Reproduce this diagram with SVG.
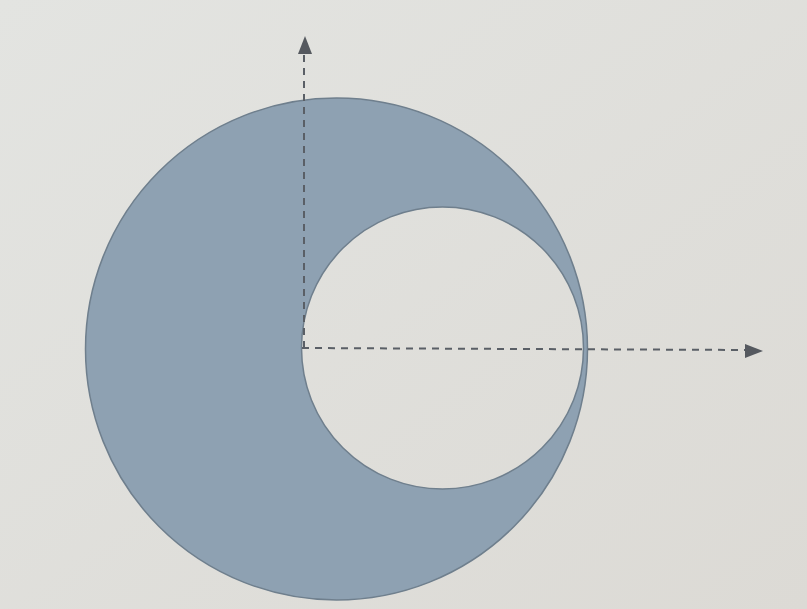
<svg xmlns="http://www.w3.org/2000/svg" width="807" height="609" viewBox="0 0 807 609">
<defs>
<style>
.axis{stroke:#5a5f66;stroke-width:2;stroke-dasharray:7 6;fill:none}
.head{fill:#55595f}
</style>
<linearGradient id="bg" x1="0" y1="0" x2="1" y2="1">
<stop offset="0" stop-color="#e3e4e1"/>
<stop offset="1" stop-color="#dcdad5"/>
</linearGradient>
</defs>
<rect width="807" height="609" fill="url(#bg)"/>
<g id="shape">
<path d="M336.5,98 A251,251 0 1,0 336.5,600 A251,251 0 1,0 336.5,98 Z M442.5,207 A141,141 0 1,1 442.5,489 A141,141 0 1,1 442.5,207 Z" fill="#8ea1b2" fill-rule="evenodd" stroke="#6f7f8d" stroke-width="1.5"/>
</g>
<g id="connectors">
<line class="axis" x1="304" y1="348" x2="304" y2="54"/>
<polygon class="head" points="305,36 298,54 312,54"/>
<line class="axis" x1="302" y1="348" x2="746" y2="350"/>
<polygon class="head" points="763,351 745,344 745,358"/>
</g>
</svg>
